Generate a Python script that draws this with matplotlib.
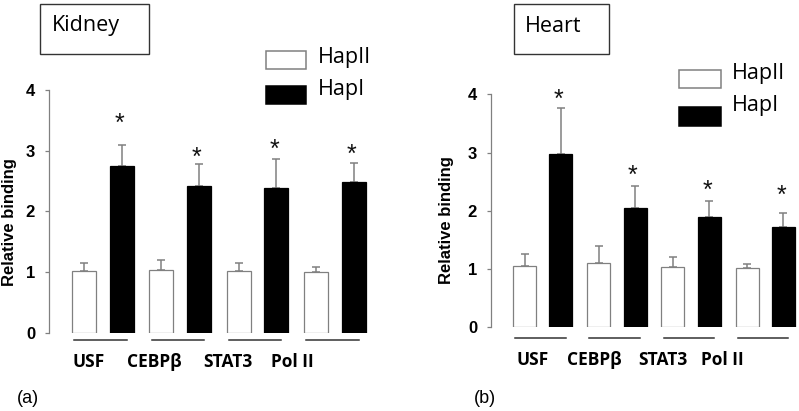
import matplotlib
matplotlib.use("Agg")
import matplotlib.pyplot as plt
from matplotlib.patches import Rectangle
from matplotlib.lines import Line2D

W, H = 799, 411

# data
factors = ["USF", "CEBPβ", "STAT3", "Pol II"]
series = ["HapII", "HapI"]

kidney_hap2 = [1.02, 1.04, 1.02, 1.00]
kidney_hap2_err = [0.13, 0.16, 0.13, 0.08]
kidney_hap1 = [2.75, 2.41, 2.38, 2.48]
kidney_hap1_err = [0.34, 0.37, 0.49, 0.31]
kidney_star = [3.54, 2.97, 3.10, 3.02]

heart_hap2 = [1.05, 1.11, 1.04, 1.01]
heart_hap2_err = [0.21, 0.29, 0.16, 0.08]
heart_hap1 = [2.98, 2.04, 1.90, 1.72]
heart_hap1_err = [0.78, 0.39, 0.26, 0.25]
heart_star = [3.99, 2.69, 2.44, 2.35]

yticks = [0, 1, 2, 3, 4]

GRAY = "#808080"
TXT = "Open Sans"
NUM = "Liberation Sans"


def fx(x):
    return x / W


def fy(y):
    return 1 - y / H


fig = plt.figure(figsize=(W / 100, H / 100), dpi=100)


def panel(box, xlim, hap2, e2, hap1, e1, stars, line_y, lab_x, lab_y):
    ax = fig.add_axes(box)
    x = list(range(len(factors)))
    xw = [i - 0.245 for i in x]
    xb = [i + 0.245 for i in x]
    ax.bar(xw, hap2, 0.31, color="white", edgecolor=GRAY, linewidth=0.9, zorder=2)
    ax.bar(xb, hap1, 0.31, color="black", edgecolor="black", linewidth=0.9, zorder=2)
    ax.errorbar(xw, hap2, yerr=[[0] * 4, e2], fmt="none", ecolor=GRAY,
                elinewidth=1.1, capsize=3.2, capthick=1.1, zorder=1)
    ax.errorbar(xb, hap1, yerr=[[0] * 4, e1], fmt="none", ecolor=GRAY,
                elinewidth=1.1, capsize=3.2, capthick=1.1, zorder=1)
    for xi, sy in zip(xb, stars):
        # asterisk glyph sits high in its box, so nudge it down a bit
        ax.text(xi - 0.03, sy - 0.09, "*", ha="center", va="center", fontsize=18,
                family=NUM, color="#111111")
    for i in x:
        ax.add_line(Line2D([i - 0.37, i + 0.31], [line_y, line_y], color="#333333",
                           lw=1.1, clip_on=False))
    for name, lx in zip(factors, lab_x):
        ax.text(lx, lab_y, name, ha="center", va="center", fontsize=12.5,
                family=TXT, fontweight="bold", clip_on=False)
    ax.set_xlim(*xlim)
    ax.set_ylim(0, 4)
    ax.set_yticks(yticks)
    ax.set_xticks([])
    for s in ["top", "right", "bottom"]:
        ax.spines[s].set_visible(False)
    ax.spines["left"].set_color(GRAY)
    ax.spines["left"].set_linewidth(0.9)
    ax.tick_params(axis="y", direction="out", length=3, width=0.9, color=GRAY,
                   pad=7, labelsize=12)
    for t in ax.get_yticklabels():
        t.set_fontweight("bold")
        t.set_family(NUM)
    ax.patch.set_alpha(0)
    return ax


panel([fx(49), fy(332.7), (381 - 49) / W, (332.7 - 90) / H], (-0.70, 3.6),
      kidney_hap2, kidney_hap2_err, kidney_hap1, kidney_hap1_err, kidney_star,
      -0.12, [-0.186, 0.667, 1.619, 2.448], -0.48)
panel([fx(491), fy(327.3), (798.7 - 491) / W, (327.3 - 94.3) / H], (-0.697, 3.45),
      heart_hap2, heart_hap2_err, heart_hap1, heart_hap1_err, heart_star,
      -0.19, [-0.13, 0.69, 1.62, 2.42], -0.56)

# y labels
fig.text(fx(10), fy(222), "Relative binding", rotation=90, ha="center", va="center",
         fontsize=12, fontweight="bold", family=NUM)
fig.text(fx(446), fy(220), "Relative binding", rotation=90, ha="center", va="center",
         fontsize=12, fontweight="bold", family=NUM)


# title boxes
def title_box(x0, x1, y0, y1, tx, label):
    fig.add_artist(Rectangle((fx(x0), fy(y1)), fx(x1) - fx(x0), fy(y0) - fy(y1),
                             transform=fig.transFigure, fill=False,
                             edgecolor="#333333", lw=1))
    fig.text(fx(tx), fy(26), label, ha="left", va="center", fontsize=15.5, family=TXT)


title_box(40, 149.3, 4, 54.3, 51.7, "Kidney")
title_box(514, 609.3, 4, 54.3, 525.3, "Heart")


# legends
def legend(x0, x1, boxes, text_y, tx):
    colors = ["white", "black"]
    edges = [GRAY, "black"]
    for (y0, y1), ty, c, e, name in zip(boxes, text_y, colors, edges, series):
        fig.add_artist(Rectangle((fx(x0), fy(y1)), fx(x1) - fx(x0), fy(y0) - fy(y1),
                                 transform=fig.transFigure, facecolor=c,
                                 edgecolor=e, lw=1.1))
        fig.text(fx(tx), fy(ty), name, ha="left", va="center", fontsize=15.5, family=TXT)


legend(265.7, 306.3, [(50.7, 69.3), (85.7, 104)], [57, 89], 318.3)
legend(679.3, 720.8, [(70, 88.3), (107.3, 126)], [74, 105.5], 732.3)

fig.text(fx(16.7), fy(398), "(a)", ha="left", va="center", fontsize=13, family=NUM)
fig.text(fx(474), fy(398), "(b)", ha="left", va="center", fontsize=13, family=NUM)

fig.savefig("out.png", dpi=100)
